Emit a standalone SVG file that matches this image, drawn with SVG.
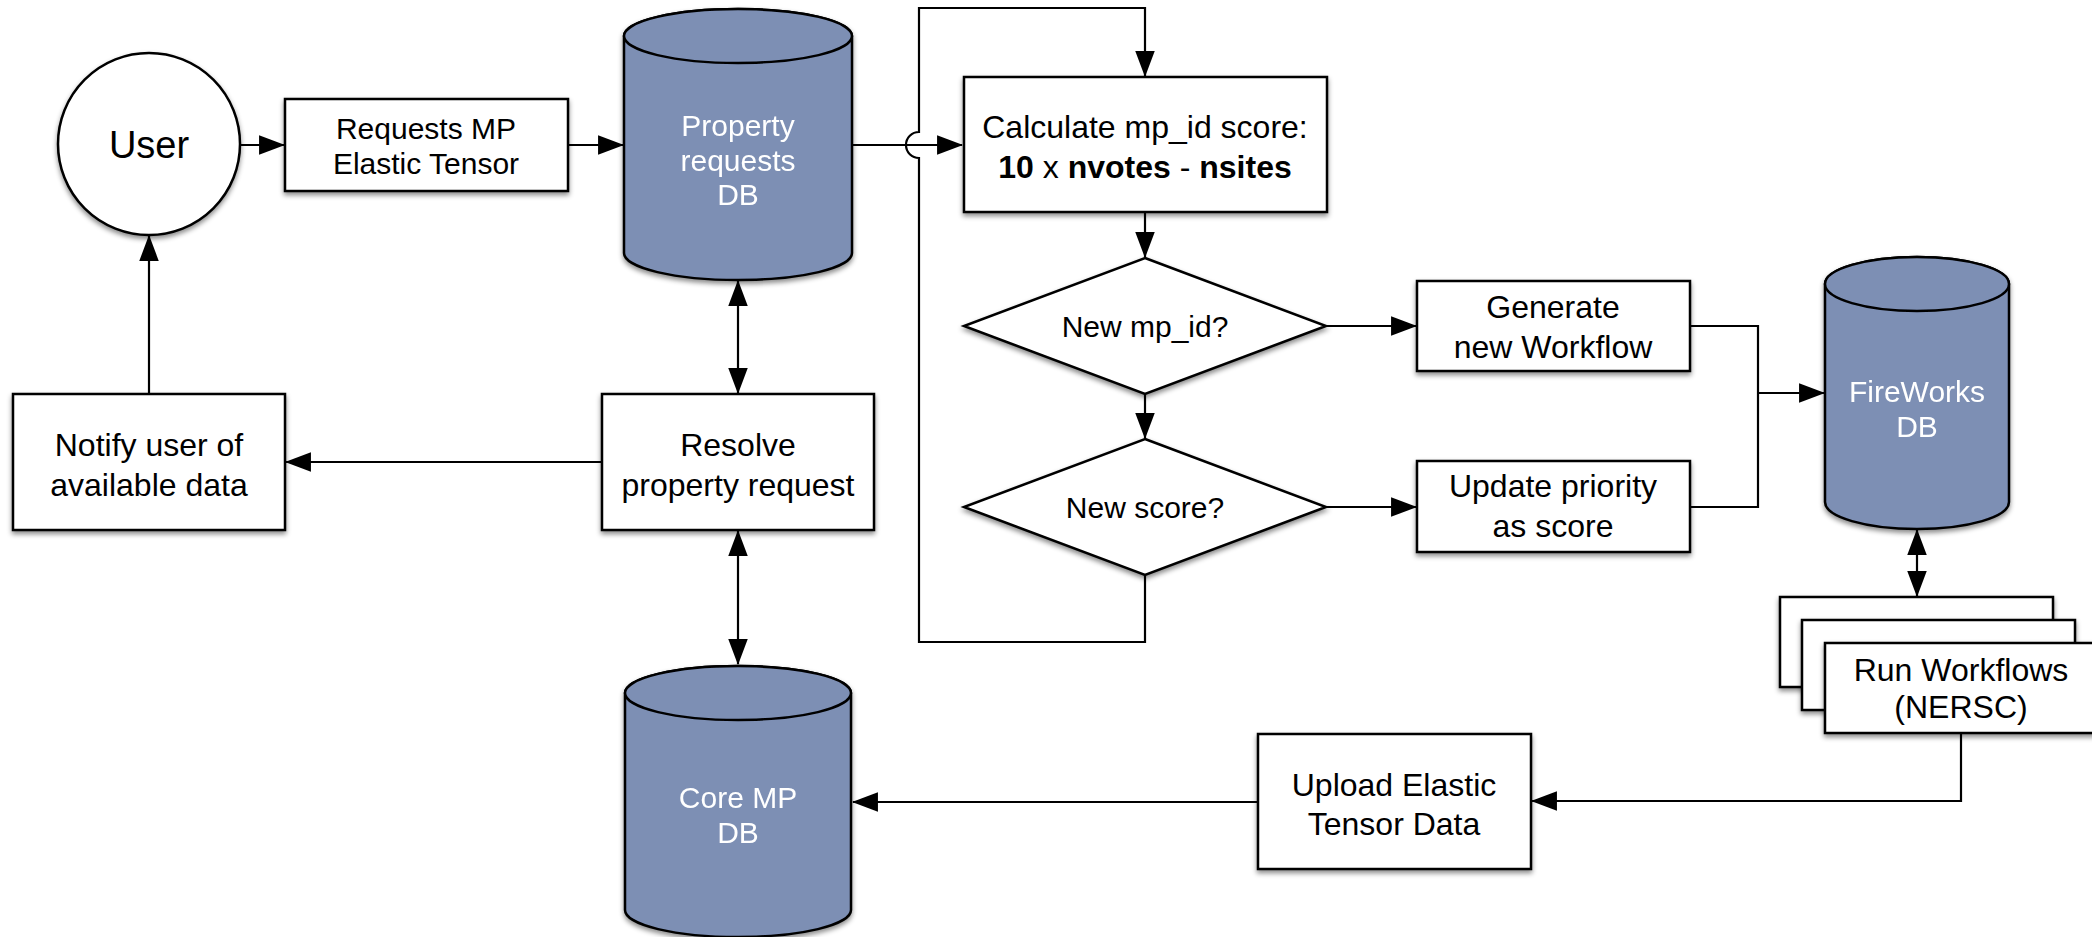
<svg xmlns="http://www.w3.org/2000/svg" width="2092" height="937" viewBox="0 0 2092 937">
<style>
  .box { fill: #ffffff; stroke: #000000; stroke-width: 2.5; filter: url(#shadow); }
  .db { fill: #7d8fb4; stroke: #000000; stroke-width: 2.5; }
  .dbg { filter: url(#shadow); }
  .t { font-family: "Liberation Sans", Arial, Helvetica, sans-serif; font-size: 30px; fill: #000000; text-anchor: middle; }
  .l { font-size: 32px; }
  .tw { fill: #ffffff; }
  .b { font-weight: bold; }
  .c { fill: none; stroke: #000000; stroke-width: 2.2; }
  .a { marker-end: url(#ah); }
  .aa { marker-start: url(#ah); marker-end: url(#ah); }
</style>
<defs>
  <marker id="ah" markerUnits="userSpaceOnUse" markerWidth="26" markerHeight="20" viewBox="0 0 24 18" refX="23" refY="9" orient="auto-start-reverse">
    <path d="M0,0 L24,9 L0,18 z" fill="#000000"/>
  </marker>
  <filter id="shadow" x="-10%" y="-10%" width="120%" height="130%">
    <feDropShadow dx="0" dy="3" stdDeviation="2.5" flood-color="#000000" flood-opacity="0.45"/>
  </filter>
</defs>
<rect width="2092" height="937" fill="#ffffff"/>

<g id="connectors">
  <path class="c a" d="M240,145 H284"/>
  <path class="c a" d="M568,145 H623"/>
  <path class="c a" d="M852,145 H962"/>
  <path class="c a" d="M1145,574 V642 H919 V158 A13,13 0 0,1 919,132 V8 H1145 V76"/>
  <path class="c a" d="M1145,212 V257"/>
  <path class="c a" d="M1145,394 V438"/>
  <path class="c a" d="M1326,326 H1416"/>
  <path class="c a" d="M1326,507 H1416"/>
  <path class="c" d="M1690,326 H1758 V507 H1690"/>
  <path class="c a" d="M1758,393 H1824"/>
  <path class="c aa" d="M1917,530 V596"/>
  <path class="c a" d="M1961,733 V801 H1532"/>
  <path class="c a" d="M1258,802 H853"/>
  <path class="c aa" d="M738,281 V393"/>
  <path class="c aa" d="M738,531 V664"/>
  <path class="c a" d="M602,462 H286"/>
  <path class="c a" d="M149,394 V236"/>
</g>

<g id="user">
  <circle class="box" cx="149" cy="144" r="91"/>
  <text class="t" x="149" y="158" style="font-size:38px">User</text>
</g>

<g id="requests">
  <rect class="box" x="285" y="99" width="283" height="92"/>
  <text class="t" x="426" y="139">Requests MP</text>
  <text class="t" x="426" y="174">Elastic Tensor</text>
</g>

<g id="property-db" class="dbg">
  <path class="db" d="M624,36 V253 A114,27 0 0,0 852,253 V36 A114,27 0 0,0 624,36 Z"/>
  <ellipse class="db" cx="738" cy="36" rx="114" ry="27"/>
  <text class="t tw" x="738" y="136">Property</text>
  <text class="t tw" x="738" y="171">requests</text>
  <text class="t tw" x="738" y="205">DB</text>
</g>

<g id="calculate">
  <rect class="box" x="964" y="77" width="363" height="135"/>
  <text class="t l" x="1145" y="138">Calculate mp_id score:</text>
  <text class="t l" x="1145" y="178"><tspan class="b">10</tspan> x <tspan class="b">nvotes</tspan> - <tspan class="b">nsites</tspan></text>
</g>

<g id="new-mpid">
  <polygon class="box" points="1145,258 1326,326 1145,394 964,326"/>
  <text class="t" x="1145" y="337">New mp_id?</text>
</g>

<g id="new-score">
  <polygon class="box" points="1145,439 1326,507 1145,575 964,507"/>
  <text class="t" x="1145" y="518">New score?</text>
</g>

<g id="generate">
  <rect class="box" x="1417" y="281" width="273" height="90"/>
  <text class="t l" x="1553" y="318">Generate</text>
  <text class="t l" x="1553" y="358">new Workflow</text>
</g>

<g id="update">
  <rect class="box" x="1417" y="461" width="273" height="91"/>
  <text class="t l" x="1553" y="497">Update priority</text>
  <text class="t l" x="1553" y="537">as score</text>
</g>

<g id="fireworks-db" class="dbg">
  <path class="db" d="M1825,284 V502 A92,27 0 0,0 2009,502 V284 A92,27 0 0,0 1825,284 Z"/>
  <ellipse class="db" cx="1917" cy="284" rx="92" ry="27"/>
  <text class="t tw" x="1917" y="402">FireWorks</text>
  <text class="t tw" x="1917" y="437">DB</text>
</g>

<g id="run-workflows">
  <rect class="box" x="1780" y="597" width="273" height="90"/>
  <rect class="box" x="1802" y="620" width="273" height="90"/>
  <rect class="box" x="1825" y="643" width="273" height="90"/>
  <text class="t l" x="1961" y="681">Run Workflows</text>
  <text class="t l" x="1961" y="718">(NERSC)</text>
</g>

<g id="upload">
  <rect class="box" x="1258" y="734" width="273" height="135"/>
  <text class="t l" x="1394" y="796">Upload Elastic</text>
  <text class="t l" x="1394" y="835">Tensor Data</text>
</g>

<g id="core-db" class="dbg">
  <path class="db" d="M625,693 V910 A113,27 0 0,0 851,910 V693 A113,27 0 0,0 625,693 Z"/>
  <ellipse class="db" cx="738" cy="693" rx="113" ry="27"/>
  <text class="t tw" x="738" y="808">Core MP</text>
  <text class="t tw" x="738" y="843">DB</text>
</g>

<g id="resolve">
  <rect class="box" x="602" y="394" width="272" height="136"/>
  <text class="t l" x="738" y="456">Resolve</text>
  <text class="t l" x="738" y="496">property request</text>
</g>

<g id="notify">
  <rect class="box" x="13" y="394" width="272" height="136"/>
  <text class="t l" x="149" y="456">Notify user of</text>
  <text class="t l" x="149" y="496">available data</text>
</g>
</svg>
